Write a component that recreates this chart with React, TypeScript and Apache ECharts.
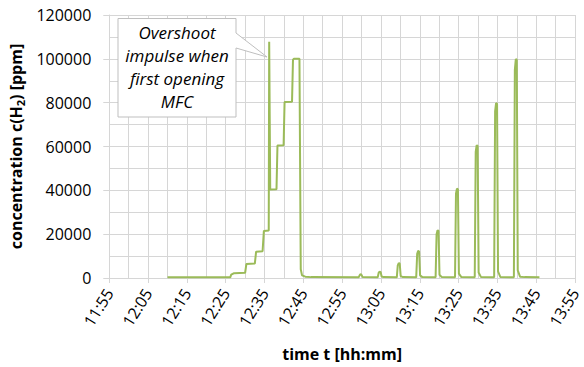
import React, { useEffect, useRef } from "react";
import * as echarts from "echarts";

// Time axis starts at 11:55; x values are minutes after that.
const AXIS_START = "11:55";

// Measured H2 concentration (ppm) over clock time (hh:mm:ss)
const times: string[] = [
  "12:10:00", "12:26:10", "12:26:25", "12:27:10", "12:30:00", "12:30:20",
  "12:32:30", "12:32:50", "12:34:30", "12:34:50", "12:36:05", "12:36:12",
  "12:36:28", "12:38:05", "12:38:20", "12:39:55", "12:40:10", "12:42:05",
  "12:42:20", "12:42:35", "12:44:00", "12:44:20", "12:44:40", "12:45:30",
  "12:47:00", "12:59:15",
  "12:59:30", "12:59:45", "13:00:00", "13:00:15",
  "13:04:10", "13:04:25", "13:04:40", "13:04:55", "13:05:10", "13:05:40",
  "13:09:05", "13:09:20", "13:09:35", "13:09:50", "13:10:05", "13:10:40",
  "13:14:05", "13:14:20", "13:14:35", "13:14:50", "13:15:05", "13:15:40",
  "13:19:05", "13:19:20", "13:19:35", "13:19:50", "13:20:05", "13:20:40",
  "13:24:05", "13:24:20", "13:24:35", "13:24:50", "13:25:05", "13:25:40",
  "13:29:10", "13:29:25", "13:29:40", "13:29:55", "13:30:10", "13:30:45",
  "13:34:10", "13:34:25", "13:34:40", "13:34:55", "13:35:10", "13:35:45",
  "13:39:15", "13:39:30", "13:39:45", "13:40:00", "13:40:15", "13:40:50",
  "13:42:00", "13:45:50",
];

const ppm: number[] = [
  300, 300, 1500, 2200, 2400, 6400,
  6600, 12000, 12200, 21500, 21700, 107800,
  40400, 40500, 60500, 60600, 80300, 80400,
  99600, 100000, 100000, 4000, 1200, 600,
  400, 300,
  1200, 1800, 1400, 500,
  300, 2400, 2900, 2700, 700, 400,
  300, 5800, 6800, 6600, 900, 400,
  300, 11000, 12400, 12100, 1200, 400,
  300, 20000, 21800, 21500, 1500, 400,
  300, 38500, 40800, 40500, 2000, 500,
  300, 57500, 60600, 60200, 2500, 500,
  300, 76000, 79800, 79500, 3000, 500,
  300, 95000, 99900, 99600, 3500, 600,
  400, 300,
];

const annotationLines: string[] = ["Overshoot", "impulse when", "first opening", "MFC"];

const FONT = "'Open Sans', 'Noto Sans', sans-serif";
const GRID_COLOR = "#d6d6d6";
const LINE_COLOR = "#9bbb59";

function clockToMinutes(t: string): number {
  const [h, m, s] = t.split(":").map(Number);
  return h * 60 + m + (s || 0) / 60;
}

const startMin = clockToMinutes(AXIS_START);

function minutesToClock(v: number): string {
  const total = Math.round(startMin + v);
  const h = Math.floor(total / 60);
  const m = total % 60;
  return `${h}:${m < 10 ? "0" : ""}${m}`;
}

export default function App() {
  const ref = useRef<HTMLDivElement>(null);

  useEffect(() => {
    if (!ref.current) return;
    const chart = echarts.init(ref.current, undefined, { renderer: "svg" });
    const data = times.map((t, i) => [clockToMinutes(t) - startMin, ppm[i]]);

    chart.setOption({
      animation: false,
      backgroundColor: "#ffffff",
      grid: { left: 108, right: 9, top: 15, bottom: 88, containLabel: false },
      xAxis: {
        type: "value",
        min: 0,
        max: 120,
        interval: 10,
        name: "time t [hh:mm]",
        nameLocation: "middle",
        nameGap: 68,
        nameTextStyle: { fontFamily: FONT, fontSize: 16, fontWeight: "bold", color: "#000" },
        axisLine: { show: true, lineStyle: { color: GRID_COLOR, width: 1 } },
        axisTick: { show: true, length: 5, lineStyle: { color: GRID_COLOR } },
        axisLabel: {
          rotate: 58,
          margin: 12,
          fontFamily: FONT,
          fontSize: 16,
          color: "#000",
          formatter: (v: number) => minutesToClock(v),
        },
        splitLine: { show: true, lineStyle: { color: GRID_COLOR, width: 1 } },
        minorTick: { show: false, splitNumber: 2 },
        minorSplitLine: { show: true, lineStyle: { color: GRID_COLOR, width: 1 } },
      },
      yAxis: {
        type: "value",
        min: 0,
        max: 120000,
        interval: 20000,
        name: "{n|concentration c(H}{s|2}{n|) [ppm]}",
        nameLocation: "middle",
        nameRotate: 90,
        nameGap: 69,
        nameTextStyle: {
          rich: {
            n: { fontFamily: FONT, fontSize: 16, fontWeight: "bold", color: "#000" },
            s: { fontFamily: FONT, fontSize: 11, fontWeight: "bold", color: "#000", padding: [8, 0, 0, 0] },
          },
        },
        axisLine: { show: true, lineStyle: { color: GRID_COLOR, width: 1 } },
        axisTick: { show: true, length: 6, lineStyle: { color: GRID_COLOR } },
        axisLabel: {
          margin: 18,
          fontFamily: FONT,
          fontSize: 16,
          color: "#000",
          formatter: (v: number) => String(v),
        },
        splitLine: { show: true, lineStyle: { color: GRID_COLOR, width: 1 } },
        minorTick: { show: false, splitNumber: 2 },
        minorSplitLine: { show: true, lineStyle: { color: GRID_COLOR, width: 1 } },
      },
      series: [
        {
          type: "line",
          data,
          showSymbol: false,
          lineStyle: { color: LINE_COLOR, width: 2 },
          z: 3,
        },
      ],
      graphic: [
        {
          type: "polygon",
          z: 100,
          shape: {
            points: [
              [118, 18.5],
              [236, 18.5],
              [236, 33],
              [267, 57],
              [236, 48],
              [236, 117],
              [118, 117],
            ],
          },
          style: { fill: "#ffffff", stroke: "#bfbfbf", lineWidth: 1 },
        },
        {
          type: "text",
          z: 101,
          x: 177,
          y: 67,
          style: {
            text: annotationLines.join("\n"),
            fontFamily: FONT,
            fontStyle: "italic",
            fontSize: 17,
            lineHeight: 23,
            fill: "#000",
            align: "center",
            verticalAlign: "middle",
          },
        },
      ],
    });

    return () => chart.dispose();
  }, []);

  return <div ref={ref} style={{ width: 584, height: 367, position: "absolute", left: 0, top: 0 }} />;
}
